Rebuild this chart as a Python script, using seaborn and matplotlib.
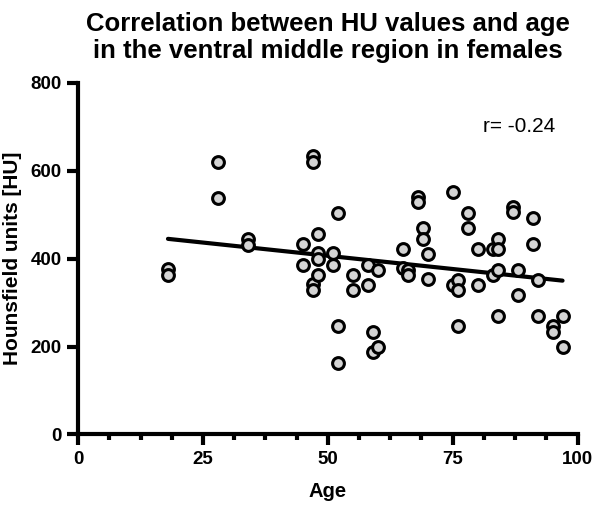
import numpy as np
import pandas as pd
import seaborn as sns
from matplotlib import pyplot as plt
from matplotlib.ticker import MultipleLocator

# values
AGES = [18, 18, 28, 28, 34, 34, 45, 45, 47, 47, 47, 47, 48, 48, 48, 48,
        51, 51, 52, 52, 52, 55, 55, 58, 58, 59, 59, 60, 60, 65, 65, 66, 66,
        68, 68, 69, 69, 70, 70, 75, 75, 76, 76, 76, 78, 78, 80, 80, 83, 83,
        84, 84, 84, 84, 87, 87, 88, 88, 91, 91, 92, 92, 95, 95, 97, 97]
HU = [376, 363, 620, 539, 444, 432, 433, 386, 634, 620, 342, 328, 457, 412, 399, 364,
      412, 385, 504, 247, 163, 364, 328, 385, 340, 234, 188, 374, 200, 422, 378, 374, 362,
      540, 528, 469, 444, 410, 353, 552, 340, 351, 328, 247, 504, 469, 422, 340, 422, 362,
      444, 422, 375, 269, 518, 506, 375, 317, 493, 433, 351, 269, 247, 234, 269, 198]
R_TEXT = 'r= -0.24'
TITLE = 'Correlation between HU values and age\nin the ventral middle region in females'

df = pd.DataFrame({'Age': AGES, 'HU': HU})

sns.set_style('white')
plt.rcParams['font.family'] = ['Liberation Sans', 'DejaVu Sans']
plt.rcParams['text.color'] = 'black'
plt.rcParams['axes.labelcolor'] = 'black'
plt.rcParams['xtick.color'] = 'black'
plt.rcParams['ytick.color'] = 'black'

fig = plt.figure(figsize=(5.96, 5.09), dpi=100)
ax = fig.add_axes([0.131, 0.1464, 0.838, 0.6906])

sns.regplot(data=df, x='Age', y='HU', ci=None, ax=ax,
            scatter_kws={'s': 72, 'color': '#d4d4d4', 'edgecolors': 'black',
                         'linewidths': 2.2, 'alpha': 1, 'zorder': 3},
            line_kws={'color': 'black', 'lw': 3, 'zorder': 2})

ax.set_xlim(0, 100)
ax.set_ylim(0, 800)
ax.set_xticks([0, 25, 50, 75, 100])
ax.set_yticks([0, 200, 400, 600, 800])
ax.xaxis.set_minor_locator(MultipleLocator(6.25))

for side in ['top', 'right']:
    ax.spines[side].set_visible(False)
for side in ['left', 'bottom']:
    ax.spines[side].set_linewidth(3)
    ax.spines[side].set_color('black')

ax.tick_params(axis='both', which='major', direction='out', length=8, width=3,
               color='black', labelcolor='black', labelsize=13.5, pad=4,
               bottom=True, left=True)
ax.tick_params(axis='x', which='minor', direction='out', length=4, width=3,
               color='black', bottom=True)
for lbl in ax.get_xticklabels() + ax.get_yticklabels():
    lbl.set_fontweight('bold')

ax.set_xlabel('Age', fontsize=14.5, fontweight='bold', labelpad=10, color='black')
ax.set_ylabel('Hounsfield units [HU]', fontsize=15, fontweight='bold', labelpad=6, color='black')
ax.set_title(TITLE, fontsize=18.5, fontweight='bold', pad=18, linespacing=1.15, color='black')

ax.text(0.81, 0.875, R_TEXT, transform=ax.transAxes, fontsize=15, ha='left', va='center',
        color='black')

fig.savefig('out.png', dpi=100)
